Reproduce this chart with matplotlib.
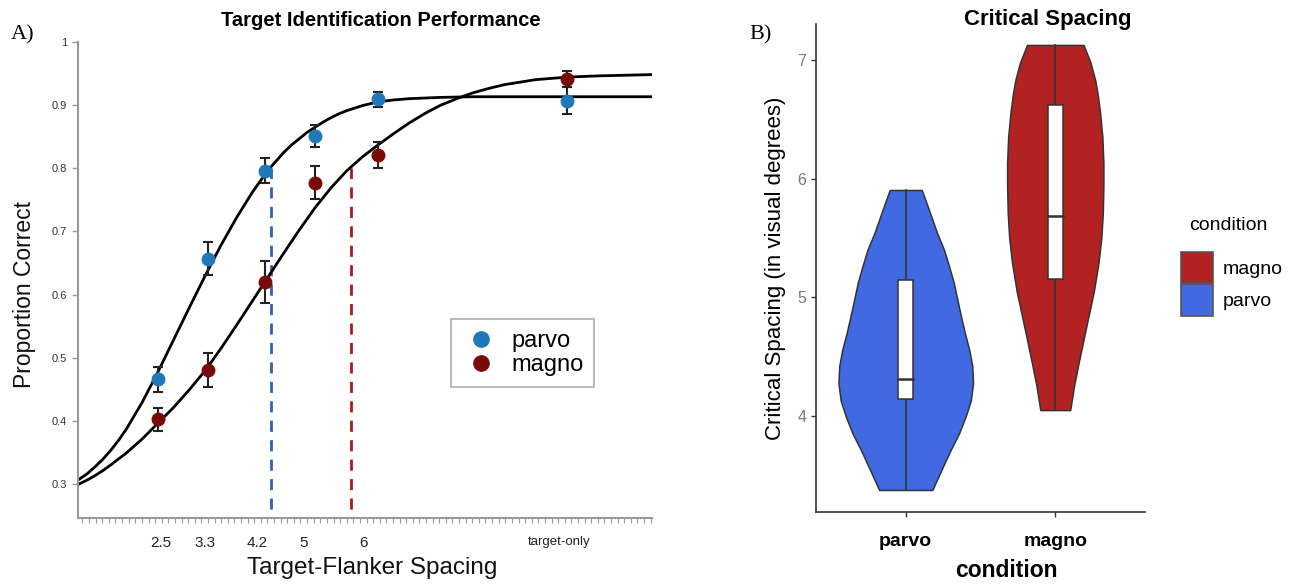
import numpy as np
import matplotlib
matplotlib.use('Agg')
import matplotlib.pyplot as plt
from matplotlib.lines import Line2D
from matplotlib.patches import Patch, Rectangle

plt.rcParams['font.family'] = ['Liberation Sans', 'DejaVu Sans']

# ---- panel A data: identification performance ----
spacing_labels = ['2.5', '3.3', '4.2', '5', '6', 'target-only']
spacing_x = [2.5, 3.3, 4.2, 5.0, 6.0, 9.0]
parvo_mean = [0.466, 0.657, 0.796, 0.851, 0.909, 0.907]
parvo_err = [0.020, 0.026, 0.020, 0.018, 0.012, 0.022]
magno_mean = [0.403, 0.481, 0.620, 0.777, 0.821, 0.941]
magno_err = [0.018, 0.027, 0.033, 0.026, 0.020, 0.012]

# fitted curves
parvo_fit_x = [1.23, 1.375, 1.5, 1.625, 1.75, 1.875, 2.0, 2.25, 2.5, 2.75, 3.0, 3.25, 3.5,
               3.75, 4.0, 4.25, 4.5, 4.625, 4.75, 4.875, 5.0, 5.125, 5.25, 5.375, 5.5,
               5.625, 5.75, 5.875, 6.0, 6.25, 6.5, 6.75, 7.0, 7.5, 8.0, 10.35]
parvo_fit_y = [0.307, 0.317, 0.328, 0.340, 0.354, 0.370, 0.388, 0.430, 0.478, 0.529, 0.580,
               0.630, 0.678, 0.722, 0.762, 0.797, 0.825, 0.837, 0.847, 0.857, 0.865, 0.873,
               0.880, 0.886, 0.891, 0.895, 0.899, 0.902, 0.905, 0.908, 0.910, 0.911, 0.912,
               0.913, 0.913, 0.913]
magno_fit_x = [1.23, 1.375, 1.5, 1.625, 1.75, 2.0, 2.25, 2.5, 2.75, 3.0, 3.25, 3.5, 3.75,
               4.0, 4.25, 4.5, 4.75, 5.0, 5.25, 5.5, 5.75, 6.0, 6.25, 6.5, 6.75, 7.0, 7.25,
               7.5, 7.75, 8.0, 8.5, 9.0, 9.5, 10.35]
magno_fit_y = [0.300, 0.307, 0.314, 0.322, 0.331, 0.350, 0.372, 0.397, 0.422, 0.450, 0.480,
               0.515, 0.552, 0.590, 0.628, 0.666, 0.703, 0.738, 0.769, 0.796, 0.818, 0.837,
               0.855, 0.872, 0.887, 0.900, 0.910, 0.919, 0.926, 0.932, 0.940, 0.944, 0.946,
               0.948]
threshold = 0.8
parvo_thresh = 4.30
magno_thresh = 5.57

# ---- panel B data: critical spacing violins ----
conditions = ['parvo', 'magno']
parvo_violin_y = [3.377, 3.55, 3.714, 3.85, 3.994, 4.13, 4.275, 4.42, 4.556, 4.70, 4.837,
                  4.98, 5.118, 5.26, 5.40, 5.54, 5.679, 5.79, 5.904]
parvo_violin_hw = [0.178, 0.24, 0.30, 0.355, 0.40, 0.435, 0.45, 0.445, 0.425, 0.395, 0.37,
                   0.345, 0.322, 0.29, 0.256, 0.21, 0.171, 0.14, 0.107]
magno_violin_y = [4.05, 4.25, 4.44, 4.65, 4.84, 5.05, 5.29, 5.5, 5.71, 5.95, 6.13, 6.35,
                  6.55, 6.7, 6.83, 6.98, 7.126]
magno_violin_hw = [0.10, 0.125, 0.155, 0.19, 0.222, 0.258, 0.289, 0.308, 0.318, 0.322, 0.322,
                   0.315, 0.30, 0.285, 0.267, 0.235, 0.189]
# min, q1, median, q3, max
parvo_box = [3.377, 4.143, 4.309, 5.146, 5.904]
magno_box = [4.05, 5.153, 5.683, 6.62, 7.126]

blue_pt = '#1F78B8'
red_pt = '#7A0A0A'
blue_v = '#4169E1'
red_v = '#B22222'

fig = plt.figure(figsize=(12.92, 5.85), dpi=100)

# ================= panel A =================
axA = fig.add_axes([0.0604, 0.1145, 0.4442, 0.8142])
axA.plot(parvo_fit_x, parvo_fit_y, color='black', lw=2, zorder=2)
axA.plot(magno_fit_x, magno_fit_y, color='black', lw=2, zorder=2)
axA.plot([parvo_thresh, parvo_thresh], [0.2, threshold], color='#3060B8', lw=2,
         dashes=(4, 3), zorder=1)
axA.plot([magno_thresh, magno_thresh], [0.2, threshold], color='#B01818', lw=2,
         dashes=(4, 3), zorder=1)
axA.errorbar(spacing_x, parvo_mean, yerr=parvo_err, fmt='o', color=blue_pt, ms=9,
             ecolor='#222222', elinewidth=1.5, capsize=3.5, capthick=1.5, zorder=3)
axA.errorbar(spacing_x, magno_mean, yerr=magno_err, fmt='o', color=red_pt, ms=9,
             ecolor='#222222', elinewidth=1.5, capsize=3.5, capthick=1.5, zorder=3)

axA.set_xlim(1.23, 10.35)
axA.set_ylim(0.247, 1.0)
for s in ['top', 'right']:
    axA.spines[s].set_visible(False)
for s in ['left', 'bottom']:
    axA.spines[s].set_color('#999999')
    axA.spines[s].set_linewidth(1.5)

tick_pos = [2.55, 3.25, 4.08, 4.81, 5.76, 8.87]
axA.set_xticks(tick_pos)
axA.set_xticklabels(spacing_labels)
for lab in axA.get_xticklabels():
    lab.set_fontsize(11 if lab.get_text() != 'target-only' else 9.5)
axA.set_xticks(np.arange(1.3, 10.35, 0.105), minor=True)
axA.tick_params(axis='x', which='major', length=0, pad=13, colors='#222222')
axA.tick_params(axis='x', which='minor', length=3.5, width=0.8, color='#999999')
axA.set_yticks([0.3, 0.4, 0.5, 0.6, 0.7, 0.8, 0.9, 1.0])
axA.set_yticklabels(['0.3', '0.4', '0.5', '0.6', '0.7', '0.8', '0.9', '1'])
axA.tick_params(axis='y', length=4, width=1, color='#999999', labelsize=8,
                labelcolor='#333333', pad=4)

leg_handles = [Line2D([], [], marker='o', ls='', color=blue_pt, ms=11),
               Line2D([], [], marker='o', ls='', color=red_pt, ms=11)]
legA = axA.legend(leg_handles, ['parvo', 'magno'], loc='lower left',
                  bbox_to_anchor=(0.650, 0.275), fontsize=17, frameon=True,
                  fancybox=False, edgecolor='#999999', handletextpad=0.5,
                  labelspacing=0.1, borderpad=0.45, handlelength=1.6, borderaxespad=0)
legA.get_frame().set_linewidth(1.2)

fig.text(0.295, 0.965, 'Target Identification Performance', ha='center', va='center',
         fontsize=14.5, fontweight='bold',
         family=['Liberation Sans Narrow', 'Liberation Sans'])
fig.text(0.288, 0.029, 'Target-Flanker Spacing', ha='center', va='center', fontsize=17.5,
         color='#111111')
fig.text(0.019, 0.497, 'Proportion Correct', ha='center', va='center', fontsize=16.5,
         rotation=90, color='#111111')
fig.text(0.008, 0.94, 'A)', ha='left', va='center', fontsize=16,
         family=['Liberation Serif', 'DejaVu Serif'])

# ================= panel B =================
axB = fig.add_axes([0.6316, 0.1253, 0.2546, 0.8332])
violins = [(1, parvo_violin_y, parvo_violin_hw, parvo_box, blue_v),
           (2, magno_violin_y, magno_violin_hw, magno_box, red_v)]
for pos, vy, hw, box, col in violins:
    vy = np.array(vy)
    hw = np.array(hw)
    axB.fill_betweenx(vy, pos - hw, pos + hw, facecolor=col, edgecolor='#333333',
                      lw=1.1, zorder=1)
    axB.plot([pos, pos], [box[0], box[4]], color='#333333', lw=1.2, zorder=2)
    axB.add_patch(Rectangle((pos - 0.05, box[1]), 0.1, box[3] - box[1], facecolor='white',
                            edgecolor='#333333', lw=1.1, zorder=3))
    axB.plot([pos - 0.05, pos + 0.05], [box[2], box[2]], color='#333333', lw=1.8, zorder=4)

axB.set_xlim(0.4, 2.6)
axB.set_ylim(3.194, 7.30)
for s in ['top', 'right']:
    axB.spines[s].set_visible(False)
for s in ['left', 'bottom']:
    axB.spines[s].set_color('#333333')
    axB.spines[s].set_linewidth(1.2)
axB.set_xticks([1, 2])
axB.set_xticklabels(conditions, fontsize=14, fontweight='bold')
axB.set_yticks([4, 5, 6, 7])
axB.set_yticklabels(['4', '5', '6', '7'], fontsize=11.5, color='#777777')
axB.tick_params(axis='both', length=3.5, width=1, color='#333333')
axB.tick_params(axis='x', pad=12)
axB.set_xlabel('condition', fontsize=16.5, fontweight='bold')
axB.xaxis.set_label_coords(0.578, -0.098)
axB.set_ylabel('Critical Spacing (in visual degrees)', fontsize=16, labelpad=8)
fig.text(1048 / 1292, 0.966, 'Critical Spacing', ha='center', va='center', fontsize=16,
         fontweight='bold')

legB_handles = [Patch(facecolor=red_v, edgecolor='#555555', lw=1.2),
                Patch(facecolor=blue_v, edgecolor='#555555', lw=1.2)]
fig.legend(legB_handles, ['magno', 'parvo'], loc='upper left',
           bbox_to_anchor=(0.9005, 0.599), frameon=False, fontsize=14,
           handlelength=1.65, handleheight=2.1, labelspacing=0.05, handletextpad=0.5)
fig.text(1189 / 1292, 1 - 225 / 585, 'condition', ha='left', va='center', fontsize=14)

fig.text(0.58, 0.94, 'B)', ha='left', va='center', fontsize=16,
         family=['Liberation Serif', 'DejaVu Serif'])

fig.savefig('out.png', dpi=100)
